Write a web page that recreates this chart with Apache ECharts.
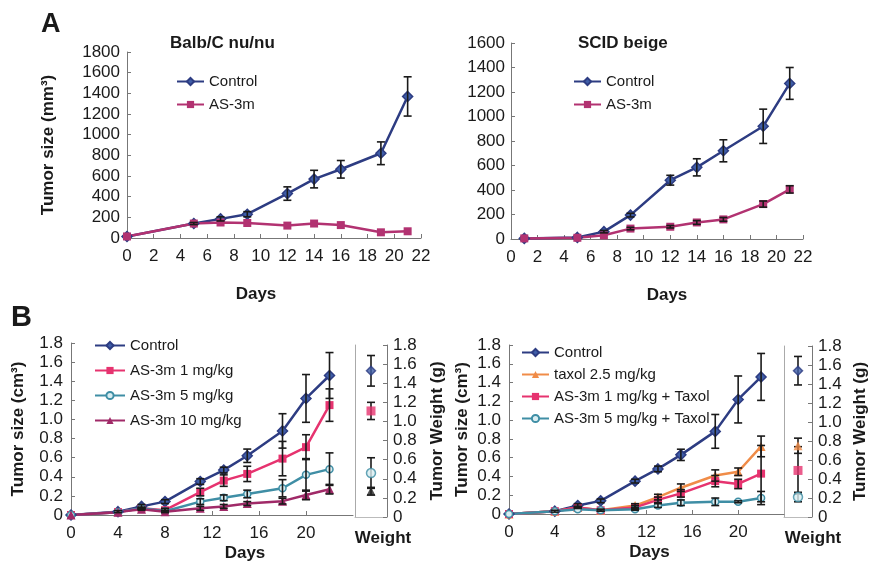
<!DOCTYPE html>
<html lang="en">
<head>
  <meta charset="UTF-8" />
  <title>Tumor growth panels</title>
  <script src="https://cdn.jsdelivr.net/npm/echarts@6.0.0/dist/echarts.min.js"></script>
</head>
<body style="margin:0; background:#fff;">
  <div id="main" style="width: 875px; height: 565px;"></div>
  <script>
    // ---- data ----
    // panel A, Balb/C nu/nu (mm3)
    const daysA1 = [0, 5, 7, 9, 12, 14, 16, 19, 21];
    const ctrlA1 = [15, 140, 185, 230, 430, 570, 665, 820, 1370];
    const ctrlA1Err = [0, 10, 20, 25, 65, 85, 85, 110, 190];
    const asA1 = [15, 140, 150, 145, 120, 140, 125, 55, 65];

    // panel A, SCID beige (mm3)
    const daysA2 = [1, 5, 7, 9, 12, 14, 16, 19, 21];
    const ctrlA2 = [5, 13, 60, 195, 480, 585, 720, 920, 1270];
    const ctrlA2Err = [0, 0, 10, 15, 40, 70, 90, 140, 130];
    const asA2 = [5, 10, 30, 85, 100, 135, 160, 285, 405];
    const asA2Err = [0, 0, 0, 10, 10, 15, 15, 25, 30];

    // panel B (cm3)
    const daysB = [0, 4, 6, 8, 11, 13, 15, 18, 20, 22];
    const ctrlB1 = [0, 0.035, 0.09, 0.14, 0.35, 0.47, 0.62, 0.88, 1.22, 1.46];
    const ctrlB1Err = [0, 0.01, 0.02, 0.02, 0.03, 0.03, 0.07, 0.18, 0.25, 0.24];
    const as1B = [0, 0.03, 0.07, 0.05, 0.24, 0.36, 0.43, 0.59, 0.71, 1.15];
    const as1BErr = [0, 0, 0.01, 0.02, 0.04, 0.06, 0.08, 0.18, 0.13, 0.17];
    const as5B = [0, 0.03, 0.07, 0.04, 0.14, 0.18, 0.22, 0.28, 0.42, 0.48];
    const as5BErr = [0, 0, 0.01, 0.01, 0.03, 0.03, 0.04, 0.09, 0.17, 0.17];
    const as10B = [0, 0.03, 0.06, 0.035, 0.07, 0.09, 0.12, 0.145, 0.21, 0.27];
    const as10BErr = [0, 0, 0.01, 0.01, 0.02, 0.02, 0.02, 0.03, 0.05, 0.05];
    const weightB1 = [1.53, 1.11, 0.46, 0.27];
    const weightB1Err = [0.16, 0.09, 0.16, 0.04];

    const ctrlB2 = [0, 0.03, 0.09, 0.14, 0.35, 0.48, 0.63, 0.88, 1.22, 1.46];
    const ctrlB2Err = [0, 0.01, 0.02, 0.02, 0.02, 0.03, 0.06, 0.18, 0.25, 0.25];
    const taxolB = [0, 0.03, 0.07, 0.04, 0.09, 0.18, 0.28, 0.41, 0.45, 0.72];
    const taxolBErr = [0, 0, 0.01, 0.01, 0.02, 0.03, 0.04, 0.06, 0.04, 0.11];
    const as1T = [0, 0.03, 0.07, 0.04, 0.07, 0.15, 0.22, 0.35, 0.32, 0.43];
    const as1TErr = [0, 0, 0.01, 0.01, 0.02, 0.03, 0.04, 0.06, 0.05, 0.3];
    const as5T = [0, 0.03, 0.05, 0.04, 0.05, 0.09, 0.12, 0.13, 0.13, 0.17];
    const as5TErr = [0, 0, 0, 0, 0.01, 0.02, 0.03, 0.04, 0.01, 0.07];
    const weightB2 = [1.54, 0.75, 0.49, 0.21];
    const weightB2Err = [0.15, 0.08, 0.25, 0.05];

    const weightCats = ["Weight"];

    // ---- styling ----
    const FONT = "Liberation Sans, Arial, sans-serif";
    const INK = "#1a1a1a";
    const NAVY = "#2d3c82", NAVY_FILL = "#3f5ea8";
    const MAGENTA = "#b23271";
    const PINK = "#e6336f";
    const TEAL = "#3f8ea5";
    const PURPLE = "#a02a68";
    const ORANGE = "#f08c48";

    const zip = (xs, ys) => xs.map((x, i) => [x, ys[i]]);
    const zip3 = (xs, ys, es) => xs.map((x, i) => [x, ys[i], es[i]]);

    function errorBar(params, api) {
      const e = api.value(2);
      if (!e) return null;
      const x = api.value(0), y = api.value(1);
      const hi = api.coord([x, y + e]);
      const lo = api.coord([x, Math.max(0, y - e)]);
      const w = 4;
      const style = { stroke: INK, lineWidth: 1.6 };
      return {
        type: "group",
        children: [
          { type: "line", shape: { x1: hi[0], y1: hi[1], x2: lo[0], y2: lo[1] }, style },
          { type: "line", shape: { x1: hi[0] - w, y1: hi[1], x2: hi[0] + w, y2: hi[1] }, style },
          { type: "line", shape: { x1: lo[0] - w, y1: lo[1], x2: lo[0] + w, y2: lo[1] }, style },
        ],
      };
    }

    function lineSeries(name, xi, yi, data, color, symbol, fill, size) {
      return {
        name, type: "line", xAxisIndex: xi, yAxisIndex: yi, data,
        symbol, symbolSize: size || 8,
        lineStyle: { color, width: 2.5 },
        itemStyle: { color: fill || color, borderColor: color, borderWidth: fill ? 1.5 : 0 },
        z: 3,
      };
    }
    function errSeries(xi, yi, data) {
      return { type: "custom", xAxisIndex: xi, yAxisIndex: yi, renderItem: errorBar, data, z: 4, silent: true };
    }
    function weightSeries(name, xi, yi, value, color, symbol, fill) {
      return {
        name, type: "scatter", xAxisIndex: xi, yAxisIndex: yi, data: [[0, value]],
        symbol, symbolSize: 9,
        itemStyle: { color: fill || color, borderColor: color, borderWidth: fill ? 1.5 : 0 },
        z: 5,
      };
    }

    const tickFmt = (v) => (v === 0 ? "0" : v.toFixed(1));
    const plainFmt = (v) => String(v);
    const axisLine = { show: true, lineStyle: { color: "#777", width: 1 } };
    const axisTick = { show: true, inside: true, length: 4, lineStyle: { color: "#777" } };
    const labelStyle = { color: INK, fontFamily: FONT, fontSize: 17 };
    const nameStyle = { color: INK, fontFamily: FONT, fontSize: 17, fontWeight: "bold" };
    const legendText = { fontSize: 15, color: INK, fontFamily: FONT };

    function valueX(grid, max, interval, showMax, gap, pad) {
      return {
        type: "value", gridIndex: grid, min: 0, max, interval,
        splitLine: { show: false }, axisLine, axisTick,
        axisLabel: Object.assign({ margin: 10, showMaxLabel: showMax, formatter: plainFmt }, labelStyle),
        name: "Days", nameLocation: "middle", nameGap: gap,
        nameTextStyle: Object.assign({ padding: pad }, nameStyle),
      };
    }
    function weightX(grid, pad) {
      return {
        type: "category", gridIndex: grid, data: weightCats, boundaryGap: true,
        axisLine: { show: true, lineStyle: { color: "#bbb" } }, axisTick: { show: false },
        axisLabel: Object.assign({ margin: 13, padding: pad }, nameStyle),
      };
    }

    const chart = echarts.init(document.getElementById("main"));
    chart.setOption({
      animation: false,
      textStyle: { fontFamily: FONT },
      title: [
        { text: "A", left: 36, top: 6, textStyle: { fontSize: 27, fontWeight: "bold", color: INK, fontFamily: FONT } },
        { text: "B", left: 6, top: 298, textStyle: { fontSize: 29, fontWeight: "bold", color: INK, fontFamily: FONT } },
        { text: "Balb/C nu/nu", left: 165, top: 30, textStyle: { fontSize: 17, fontWeight: "bold", color: INK, fontFamily: FONT } },
        { text: "SCID beige", left: 573, top: 30, textStyle: { fontSize: 17, fontWeight: "bold", color: INK, fontFamily: FONT } },
      ],
      legend: [
        { data: ["Control", "AS-3m"], orient: "vertical", left: 171, top: 69, itemWidth: 27, itemHeight: 9, itemGap: 8,
          textStyle: legendText },
        { data: ["Control", "AS-3m"], orient: "vertical", left: 568, top: 69, itemWidth: 27, itemHeight: 9, itemGap: 8,
          textStyle: legendText },
        { data: ["Control", "AS-3m 1 mg/kg", "AS-3m 5 mg/kg", "AS-3m 10 mg/kg"], orient: "vertical", left: 89, top: 333,
          itemWidth: 30, itemHeight: 9, itemGap: 10, textStyle: legendText },
        { data: ["Control", "taxol 2.5 mg/kg", "AS-3m 1 mg/kg + Taxol", "AS-3m 5 mg/kg + Taxol"], orient: "vertical", left: 516, top: 340,
          itemWidth: 27, itemHeight: 9, itemGap: 7, textStyle: legendText },
      ],
      grid: [
        { left: 127, top: 52, width: 294, height: 186 },
        { left: 511, top: 43, width: 292, height: 196 },
        { left: 71, top: 343, width: 282, height: 172 },
        { left: 355, top: 345, width: 32, height: 172 },
        { left: 509, top: 345, width: 275, height: 169 },
        { left: 784, top: 346, width: 28, height: 171 },
      ],
      xAxis: [
        valueX(0, 22, 2, true, 48, [0, 36, 0, 0]),
        valueX(1, 22, 2, true, 48, [0, 0, 0, 20]),
        valueX(2, 24, 4, false, 30, [0, 0, 0, 66]),
        weightX(3, [0, 0, 0, 24]),
        valueX(4, 24, 4, false, 30, [0, 0, 0, 6]),
        weightX(5, [0, 0, 0, 30]),
      ],
      yAxis: [
        { type: "value", gridIndex: 0, min: 0, max: 1800, interval: 200, splitLine: { show: false }, axisLine, axisTick,
          axisLabel: Object.assign({ margin: 7, formatter: plainFmt }, labelStyle),
          name: "Tumor size (mm³)", nameLocation: "middle", nameGap: 70, nameTextStyle: nameStyle },
        { type: "value", gridIndex: 1, min: 0, max: 1600, interval: 200, splitLine: { show: false }, axisLine, axisTick,
          axisLabel: Object.assign({ margin: 6, formatter: plainFmt }, labelStyle) },
        { type: "value", gridIndex: 2, min: 0, max: 1.8, interval: 0.2, splitLine: { show: false }, axisLine, axisTick,
          axisLabel: Object.assign({ margin: 8, formatter: tickFmt }, labelStyle),
          name: "Tumor size (cm³)", nameLocation: "middle", nameGap: 44, nameTextStyle: nameStyle },
        { type: "value", gridIndex: 3, position: "right", min: 0, max: 1.8, interval: 0.2, splitLine: { show: false }, axisLine,
          axisTick: { show: true, inside: true, length: 4, lineStyle: { color: "#777" } },
          axisLabel: Object.assign({ margin: 6, formatter: tickFmt }, labelStyle),
          name: "Tumor Weight (g)", nameLocation: "middle", nameGap: 42, nameTextStyle: nameStyle },
        { type: "value", gridIndex: 3, position: "left", min: 0, max: 1.8, splitLine: { show: false },
          axisLine: { show: true, lineStyle: { color: "#aaa" } }, axisTick: { show: false }, axisLabel: { show: false } },
        { type: "value", gridIndex: 4, min: 0, max: 1.8, interval: 0.2, splitLine: { show: false }, axisLine, axisTick,
          axisLabel: Object.assign({ margin: 8, formatter: tickFmt }, labelStyle),
          name: "Tumor size (cm³)", nameLocation: "middle", nameGap: 38, nameTextStyle: nameStyle },
        { type: "value", gridIndex: 5, position: "right", min: 0, max: 1.8, interval: 0.2, splitLine: { show: false }, axisLine,
          axisTick: { show: true, inside: true, length: 4, lineStyle: { color: "#777" } },
          axisLabel: Object.assign({ margin: 6, formatter: tickFmt }, labelStyle),
          name: "Tumor Weight (g)", nameLocation: "middle", nameGap: 40, nameTextStyle: nameStyle },
        { type: "value", gridIndex: 5, position: "left", min: 0, max: 1.8, splitLine: { show: false },
          axisLine: { show: true, lineStyle: { color: "#aaa" } }, axisTick: { show: false }, axisLabel: { show: false } },
      ],
      series: [
        // A left
        lineSeries("Control", 0, 0, zip(daysA1, ctrlA1), NAVY, "diamond", NAVY_FILL, 10),
        lineSeries("AS-3m", 0, 0, zip(daysA1, asA1), MAGENTA, "rect"),
        errSeries(0, 0, zip3(daysA1, ctrlA1, ctrlA1Err)),
        // A right
        lineSeries("Control", 1, 1, zip(daysA2, ctrlA2), NAVY, "diamond", NAVY_FILL, 10),
        lineSeries("AS-3m", 1, 1, zip(daysA2, asA2), MAGENTA, "rect"),
        errSeries(1, 1, zip3(daysA2, ctrlA2, ctrlA2Err)),
        errSeries(1, 1, zip3(daysA2, asA2, asA2Err)),
        // B left
        lineSeries("Control", 2, 2, zip(daysB, ctrlB1), NAVY, "diamond", NAVY_FILL, 10),
        lineSeries("AS-3m 1 mg/kg", 2, 2, zip(daysB, as1B), PINK, "rect"),
        lineSeries("AS-3m 5 mg/kg", 2, 2, zip(daysB, as5B), TEAL, "circle", "#d9edf1", 7),
        lineSeries("AS-3m 10 mg/kg", 2, 2, zip(daysB, as10B), PURPLE, "triangle", null, 9),
        errSeries(2, 2, zip3(daysB, ctrlB1, ctrlB1Err)),
        errSeries(2, 2, zip3(daysB, as1B, as1BErr)),
        errSeries(2, 2, zip3(daysB, as5B, as5BErr)),
        errSeries(2, 2, zip3(daysB, as10B, as10BErr)),
        // B left weight
        weightSeries("w1 Control", 3, 3, weightB1[0], NAVY, "diamond", NAVY_FILL),
        weightSeries("w1 AS1", 3, 3, weightB1[1], PINK, "rect"),
        weightSeries("w1 AS5", 3, 3, weightB1[2], TEAL, "circle", "#d9edf1"),
        weightSeries("w1 AS10", 3, 3, weightB1[3], "#222", "triangle"),
        errSeries(3, 3, weightB1.map((v, i) => [0, v, weightB1Err[i]])),
        // B right
        lineSeries("Control", 4, 5, zip(daysB, ctrlB2), NAVY, "diamond", NAVY_FILL, 10),
        lineSeries("taxol 2.5 mg/kg", 4, 5, zip(daysB, taxolB), ORANGE, "triangle", null, 9),
        lineSeries("AS-3m 1 mg/kg + Taxol", 4, 5, zip(daysB, as1T), PINK, "rect"),
        lineSeries("AS-3m 5 mg/kg + Taxol", 4, 5, zip(daysB, as5T), TEAL, "circle", "#d9edf1", 7),
        errSeries(4, 5, zip3(daysB, ctrlB2, ctrlB2Err)),
        errSeries(4, 5, zip3(daysB, taxolB, taxolBErr)),
        errSeries(4, 5, zip3(daysB, as1T, as1TErr)),
        errSeries(4, 5, zip3(daysB, as5T, as5TErr)),
        // B right weight
        weightSeries("w2 Control", 5, 6, weightB2[0], NAVY, "diamond", NAVY_FILL),
        weightSeries("w2 Taxol", 5, 6, weightB2[1], ORANGE, "triangle"),
        weightSeries("w2 AS1", 5, 6, weightB2[2], PINK, "rect"),
        weightSeries("w2 AS5", 5, 6, weightB2[3], TEAL, "circle", "#d9edf1"),
        errSeries(5, 6, weightB2.map((v, i) => [0, v, weightB2Err[i]])),
      ],
    });
  </script>
</body>
</html>
